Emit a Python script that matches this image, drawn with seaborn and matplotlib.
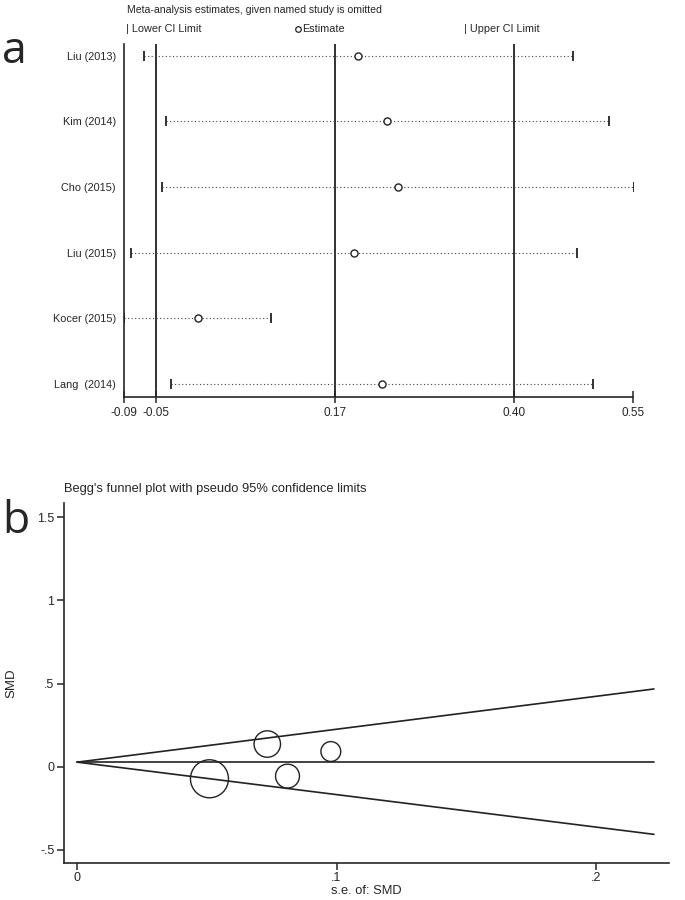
import numpy as np
import pandas as pd
import matplotlib
matplotlib.use("Agg")
import matplotlib.pyplot as plt
import seaborn as sns

# panel a: influence analysis (estimate with one study omitted)
studies = ["Liu (2013)", "Kim (2014)", "Cho (2015)", "Liu (2015)", "Kocer (2015)", "Lang  (2014)"]
est = [0.204, 0.241, 0.254, 0.199, 0.003, 0.234]
lower = [-0.065, -0.038, -0.043, -0.082, -0.09, -0.031]
upper = [0.474, 0.520, 0.551, 0.480, 0.095, 0.500]
ref_lines = [-0.05, 0.175, 0.40]
a_ticks = [-0.09, -0.05, 0.175, 0.40, 0.55]
a_ticklabels = ["-0.09", "-0.05", "0.17", "0.40", "0.55"]

# panel b: Begg's funnel plot
se = [0.051, 0.0733, 0.0978, 0.0811]
smd = [-0.072, 0.137, 0.092, -0.056]
pooled = 0.028
funnel_se = [0.0, 0.2224]
funnel_up = [0.028, 0.468]
funnel_lo = [0.028, -0.406]
b_yticks = [-0.5, 0, 0.5, 1, 1.5]
b_yticklabels = ["-.5", "0", ".5", "1", "1.5"]
b_xticks = [0, 0.1, 0.2]
b_xticklabels = ["0", ".1", ".2"]

sns.set_style("ticks")
plt.rcParams["font.family"] = ["Liberation Sans", "DejaVu Sans"]
plt.rcParams["axes.linewidth"] = 1.2

fig = plt.figure(figsize=(6.85, 9), dpi=100)

# ---------------- panel a ----------------
ax = fig.add_axes([0.1815, 0.5589, 0.9241 - 0.1815, 0.9511 - 0.5589])
df = pd.DataFrame({"study": studies, "est": est, "lower": lower, "upper": upper})
df["row"] = np.arange(len(df))

for v in ref_lines:
    ax.axvline(v, color="#222222", lw=1.3, zorder=1)

ax.hlines(df["row"], df["lower"], df["upper"], colors="#444444",
          linestyles=(0, (1, 2.2)), lw=0.8, zorder=2)
sns.scatterplot(data=df, x="lower", y="row", marker="|", s=60, color="#222222",
                linewidth=1.3, ax=ax, zorder=3)
sns.scatterplot(data=df, x="upper", y="row", marker="|", s=60, color="#222222",
                linewidth=1.3, ax=ax, zorder=3)
sns.scatterplot(data=df, x="est", y="row", marker="o", s=26, facecolor="white",
                edgecolor="#222222", linewidth=1.0, ax=ax, zorder=4)

ax.set_xlim(-0.09, 0.55)
ax.set_ylim(5.199, -0.178)
ax.set_yticks(df["row"])
ax.set_yticklabels(studies, fontsize=7.8)
ax.tick_params(axis="y", length=0, pad=6)
ax.set_xticks(a_ticks)
ax.set_xticklabels(a_ticklabels, fontsize=8.5)
ax.tick_params(axis="x", direction="inout", length=9, width=1.1, pad=3)
ax.set_xlabel("")
ax.set_ylabel("")
sns.despine(ax=ax)

fig.text(127 / 685, 1 - 10 / 900, "Meta-analysis estimates, given named study is omitted",
         fontsize=7.6, va="center", ha="left")
fig.text(126 / 685, 1 - 29 / 900, "| Lower CI Limit", fontsize=7.8, va="center", ha="left")
fig.text(464 / 685, 1 - 29 / 900, "| Upper CI Limit", fontsize=7.8, va="center", ha="left")
fig.text(302 / 685, 1 - 29 / 900, "Estimate", fontsize=7.8, va="center", ha="left")
fig.lines.append(plt.Line2D([298 / 685], [1 - 29 / 900], marker="o", ms=4, mfc="white",
                            mec="#222222", mew=0.9, transform=fig.transFigure))

fig.text(2 / 685, 1 - 52 / 900, "a", fontsize=32, family="Open Sans", va="center", ha="left")

# ---------------- panel b ----------------
bx = fig.add_axes([0.0934, 0.0408, 0.977 - 0.0934, 0.4411 - 0.0408])
sns.lineplot(x=funnel_se, y=funnel_up, color="#222222", lw=1.2, ax=bx)
sns.lineplot(x=funnel_se, y=funnel_lo, color="#222222", lw=1.2, ax=bx)
sns.lineplot(x=funnel_se, y=[pooled, pooled], color="#222222", lw=1.2, ax=bx)

# marker area proportional to study weight (1/se^2)
sizes = [1.95 / s ** 2 for s in se]
sns.scatterplot(x=se, y=smd, s=sizes, facecolor="none", edgecolor="#222222",
                linewidth=1.0, ax=bx, zorder=4)

bx.set_xlim(-0.0051, 0.2283)
bx.set_ylim(-0.58, 1.586)
bx.set_yticks(b_yticks)
bx.set_yticklabels(b_yticklabels, fontsize=9)
bx.set_xticks(b_xticks)
bx.set_xticklabels(b_xticklabels, fontsize=9)
bx.tick_params(axis="y", length=5, width=1.1, pad=2)
bx.tick_params(axis="x", length=5, width=1.1, pad=1)
bx.set_xlabel("s.e. of: SMD", fontsize=9.3, labelpad=1)
bx.set_ylabel("SMD", fontsize=9.5, labelpad=14)
bx.set_title("Begg's funnel plot with pseudo 95% confidence limits", loc="left",
             fontsize=9.3, pad=8)
sns.despine(ax=bx)

fig.text(2 / 685, 1 - 522 / 900, "b", fontsize=32, family="Open Sans", va="center", ha="left")

fig.savefig("out.png", dpi=100)
